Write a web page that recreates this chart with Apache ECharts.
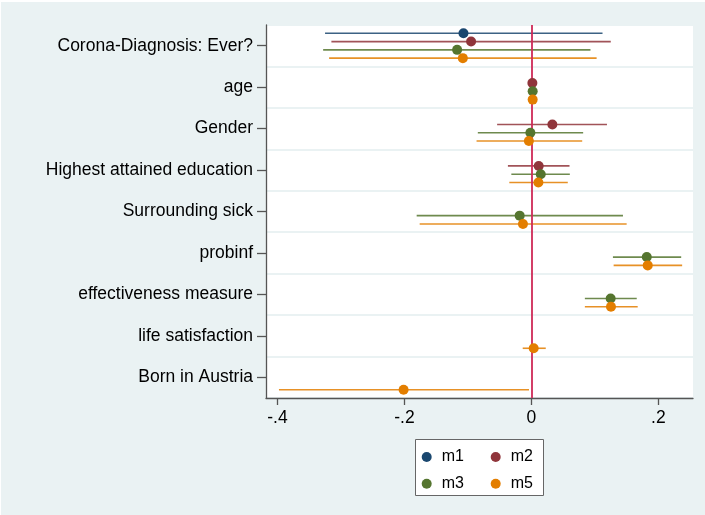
<!DOCTYPE html>
<html>
<head>
<meta charset="utf-8">
<script src="https://cdn.jsdelivr.net/npm/echarts@6/dist/echarts.min.js"></script>
<style>
  html, body { margin: 0; padding: 0; background: #eaf2f3; }
  #chart { width: 705px; height: 515px; }
</style>
</head>
<body>
<div id="chart"></div>
<script>
// Coefficient plot: point estimates with confidence intervals for four models.
const categories = [
  'Corona-Diagnosis: Ever?',
  'age',
  'Gender',
  'Highest attained education',
  'Surrounding sick',
  'probinf',
  'effectiveness measure',
  'life satisfaction',
  'Born in Austria'
];

const modelNames = ['m1', 'm2', 'm3', 'm5'];

const m1Coef = [-0.107, null, null, null, null, null, null, null, null];
const m1Lo   = [-0.325, null, null, null, null, null, null, null, null];
const m1Hi   = [ 0.112, null, null, null, null, null, null, null, null];

const m2Coef = [-0.095, 0.0015,  0.033,  0.0115, null, null, null, null, null];
const m2Lo   = [-0.315, 0.0005, -0.054, -0.037,  null, null, null, null, null];
const m2Hi   = [ 0.125, 0.0025,  0.119,  0.060,  null, null, null, null, null];

const m3Coef = [-0.117, 0.002, -0.0016,  0.0147, -0.0185, 0.1817, 0.1248, null, null];
const m3Lo   = [-0.328, 0.001, -0.0844, -0.0316, -0.1807, 0.1284, 0.0842, null, null];
const m3Hi   = [ 0.093, 0.003,  0.0815,  0.0605,  0.1442, 0.2359, 0.1659, null, null];

const m5Coef = [-0.108,  0.002, -0.004,  0.011,  -0.0133, 0.1832, 0.1253,  0.0036, -0.2013];
const m5Lo   = [-0.3186, 0.001, -0.0864, -0.0348, -0.176,  0.1295, 0.0842, -0.0137, -0.3976];
const m5Hi   = [ 0.1027, 0.003,  0.080,  0.0573,  0.150,  0.2374, 0.1674,  0.0226, -0.0038];

const xTickValues = [-0.4, -0.2, 0, 0.2];
const xTickLabels = ['-.4', '-.2', '0', '.2'];

// Styling and layout of each model's row within a category band
const modelColors = ['#1a476f', '#90353b', '#55752f', '#e37e00'];
const modelOffsets = [-0.3, -0.1, 0.1, 0.3];
const modelData = [
  [m1Coef, m1Lo, m1Hi],
  [m2Coef, m2Lo, m2Hi],
  [m3Coef, m3Lo, m3Hi],
  [m5Coef, m5Lo, m5Hi]
];

const FONT = '"Liberation Sans", Arial, Helvetica, sans-serif';
const FONT_SIZE = 17.5;
const LEGEND_FONT_SIZE = 16;

const series = [];
modelNames.forEach((name, k) => {
  const [coef, lo, hi] = modelData[k];
  const ciData = [];
  const ptData = [];
  coef.forEach((c, i) => {
    if (c === null) return;
    const pos = i + 0.5 + modelOffsets[k];
    ciData.push([lo[i], hi[i], pos]);
    ptData.push([c, pos]);
  });
  const color = modelColors[k];
  series.push({
    name: name,
    type: 'custom',
    xAxisIndex: 0,
    yAxisIndex: 1,
    z: 2,
    silent: true,
    itemStyle: { color: color },
    encode: { x: [0, 1], y: 2 },
    data: ciData,
    renderItem: function (params, api) {
      const a = api.coord([api.value(0), api.value(2)]);
      const b = api.coord([api.value(1), api.value(2)]);
      return {
        type: 'line',
        shape: { x1: a[0], y1: a[1], x2: b[0], y2: b[1] },
        style: { stroke: color, lineWidth: 1.6, opacity: 0.85 }
      };
    }
  });
  series.push({
    name: name,
    type: 'scatter',
    xAxisIndex: 0,
    yAxisIndex: 1,
    z: 4,
    symbol: 'circle',
    symbolSize: 10,
    itemStyle: { color: color, opacity: 1 },
    data: ptData
  });
});

// Vertical reference line at zero
series.push({
  type: 'scatter',
  xAxisIndex: 0,
  yAxisIndex: 1,
  z: 3,
  data: [],
  markLine: {
    silent: true,
    symbol: 'none',
    z: 3,
    label: { show: false },
    lineStyle: { color: '#cf2a57', width: 1.8, type: 'solid' },
    data: [{ xAxis: 0 }]
  }
});

function tickLabel(v) {
  for (let i = 0; i < xTickValues.length; i++) {
    if (Math.abs(v - xTickValues[i]) < 1e-9) return xTickLabels[i];
  }
  return '';
}

// Two legend columns inside one framed key box
function legendColumn(names, left) {
  return {
    left: left,
    top: 449,
    orient: 'vertical',
    data: names.map(n => ({ name: n, icon: 'circle' })),
    itemWidth: 20,
    itemHeight: 10,
    itemGap: 10.7,
    padding: 0,
    selectedMode: false,
    z: 5,
    textStyle: { fontSize: LEGEND_FONT_SIZE, color: '#000', fontFamily: FONT, lineHeight: 16 }
  };
}

const chart = echarts.init(document.getElementById('chart'), null, { renderer: 'canvas' });
chart.setOption({
  backgroundColor: '#eaf2f3',
  animation: false,
  textStyle: { fontFamily: FONT },
  grid: {
    left: 266, right: 12, top: 25, bottom: 117,
    show: true, backgroundColor: '#ffffff', borderWidth: 0
  },
  graphic: [
    { type: 'rect', left: 0, top: 0, shape: { width: 705, height: 2 }, style: { fill: '#ffffff' }, silent: true },
    { type: 'rect', left: 0, top: 0, shape: { width: 1, height: 515 }, style: { fill: '#ffffff' }, silent: true },
    {
      type: 'rect', z: 1, silent: true,
      shape: { x: 415.5, y: 439.5, width: 128, height: 56 },
      style: { fill: '#ffffff', stroke: '#666666', lineWidth: 1 }
    }
  ],
  legend: [
    legendColumn(['m1', 'm3'], 421.7),
    legendColumn(['m2', 'm5'], 490.7)
  ],
  xAxis: {
    type: 'value',
    min: -0.418,
    max: 0.2545,
    axisLine: { show: true, onZero: false, lineStyle: { color: '#555', width: 1.3 } },
    axisTick: { show: true, length: 7, customValues: xTickValues, lineStyle: { color: '#555', width: 1.3 } },
    axisLabel: {
      show: true, customValues: xTickValues, margin: 11,
      fontSize: FONT_SIZE, color: '#000', fontFamily: FONT,
      formatter: tickLabel
    },
    splitLine: { show: false }
  },
  yAxis: [
    {
      type: 'category',
      data: categories,
      inverse: true,
      boundaryGap: true,
      axisLine: { show: true, onZero: false, lineStyle: { color: '#555', width: 1.3 } },
      axisTick: { show: true, alignWithLabel: true, length: 9, lineStyle: { color: '#555', width: 1.3 } },
      axisLabel: { show: true, margin: 13, padding: [3, 0, 0, 0], fontSize: FONT_SIZE, color: '#000', fontFamily: FONT },
      splitLine: { show: true, lineStyle: { color: '#eaf2f3', width: 2 } }
    },
    {
      type: 'value',
      min: 0,
      max: 9,
      inverse: true,
      show: false,
      splitLine: { show: false }
    }
  ],
  series: series
});
</script>
</body>
</html>
